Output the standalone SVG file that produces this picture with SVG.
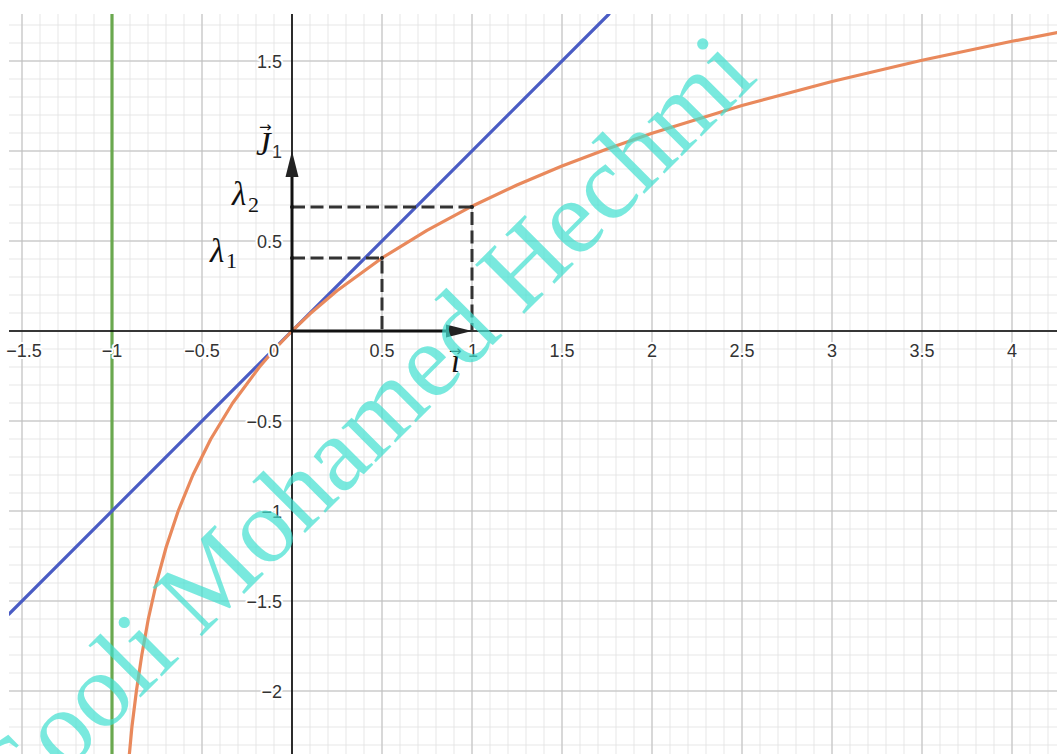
<svg xmlns="http://www.w3.org/2000/svg" width="1057" height="754" viewBox="0 0 1057 754">
<style>
.tick{font-family:"Liberation Sans",Arial,sans-serif;font-size:18px;fill:#333;stroke:#fff;stroke-width:4px;paint-order:stroke;stroke-linejoin:round}
.tx{text-anchor:middle}
.ty{text-anchor:end}
.math{font-family:"Liberation Serif","Times New Roman",serif;font-style:italic;font-size:33px;fill:#111}
.sub{font-family:"Liberation Serif","Times New Roman",serif;font-size:22px;fill:#111}
.arr{font-family:"DejaVu Sans",sans-serif;font-size:15px;fill:#111}
.dash{fill:none;stroke:#333;stroke-width:3;stroke-dasharray:13 5.5}
.curve{fill:none;stroke-width:3.2;stroke-linejoin:round;stroke-linecap:round}
</style>
<defs>
<pattern id="minor" patternUnits="userSpaceOnUse" x="291.5" y="330.5" width="18" height="18">
<rect x="0" y="0" width="1" height="18" fill="#e6e6e6"/>
<rect x="0" y="0" width="18" height="1" fill="#e6e6e6"/>
</pattern>
<pattern id="major" patternUnits="userSpaceOnUse" x="291.5" y="330.5" width="90" height="90">
<rect x="0" y="0" width="1" height="90" fill="#bdbdbd"/>
<rect x="0" y="0" width="90" height="1" fill="#bdbdbd"/>
</pattern>
<clipPath id="plot"><rect x="9" y="14" width="1048" height="740"/></clipPath>
</defs>
<rect width="1057" height="754" fill="#fff"/>
<g id="grid">
<rect x="9" y="14" width="1048" height="740" fill="url(#minor)"/>
<rect x="9" y="14" width="1048" height="740" fill="url(#major)"/>
</g>
<g id="curves" clip-path="url(#plot)">
<line id="green" x1="112" y1="14" x2="112" y2="754" class="curve" stroke="#6aa84f"/>
<line id="blue" x1="9" y1="614" x2="609" y2="14" class="curve" stroke="#4a5cc4"/>
<polyline id="orange" class="curve" stroke="#e9895c" points="129.2,756 131.9,727 136.4,691 141.8,655 148.3,619 156.4,583 166.2,547 178.2,511 192.9,475 210.8,439 232.7,403 259.4,367 274.9,349 292,331 310,313.8 337,290.8 382,258 427,230.3 472,206.2 517,185 562,166.1 607,148.9 652,133.2 742,105.5 832,81.5 922,60.3 1012,41.3 1060,32"/>
</g>
<g id="axes">
<line x1="9" y1="331" x2="1057" y2="331" stroke="#000" stroke-width="1.6"/>
<line x1="292" y1="14" x2="292" y2="754" stroke="#000" stroke-width="1.6"/>
</g>
<g id="ticks">
<text class="tick tx" x="24" y="357">−1.5</text>
<text class="tick tx" x="112" y="357">−1</text>
<text class="tick tx" x="202" y="357">−0.5</text>
<text class="tick tx" x="274" y="357">0</text>
<text class="tick tx" x="382" y="357">0.5</text>
<text class="tick tx" x="473" y="357">1</text>
<text class="tick tx" x="562" y="357">1.5</text>
<text class="tick tx" x="652" y="357">2</text>
<text class="tick tx" x="742" y="357">2.5</text>
<text class="tick tx" x="832" y="357">3</text>
<text class="tick tx" x="922" y="357">3.5</text>
<text class="tick tx" x="1012" y="357">4</text>
<text class="tick ty" x="282" y="67.5">1.5</text>
<text class="tick ty" x="282" y="157.5">1</text>
<text class="tick ty" x="282" y="247.5">0.5</text>
<text class="tick ty" x="282" y="427.5">−0.5</text>
<text class="tick ty" x="282" y="517.5">−1</text>
<text class="tick ty" x="282" y="607.5">−1.5</text>
<text class="tick ty" x="282" y="697.5">−2</text>
</g>
<g id="dashes">
<path class="dash" d="M292 207 H472 V331"/>
<path class="dash" d="M292 258 H382 V331"/>
<g fill="#222">
<circle cx="292" cy="207" r="2"/><circle cx="472" cy="207" r="2"/>
<circle cx="292" cy="258" r="2"/><circle cx="382" cy="258" r="2"/>
</g>
</g>
<g id="vectors">
<line x1="292" y1="331" x2="450" y2="331" stroke="#111" stroke-width="3"/>
<polygon points="472,331 446,324.5 446,337.5" fill="#222"/>
<line x1="292" y1="331" x2="292" y2="175" stroke="#111" stroke-width="3"/>
<polygon points="292,151 285.5,177 298.5,177" fill="#222"/>
</g>
<g id="labels">
<text class="math" x="256" y="155">J</text>
<text class="arr" x="259" y="132">→</text>
<text class="math" x="451" y="372">ı</text>
<text class="arr" x="449" y="356">→</text>
<text class="math" x="232" y="205">λ</text>
<text class="sub" x="248" y="212">2</text>
<text class="math" x="210" y="262">λ</text>
<text class="sub" x="226" y="268">1</text>
</g>
<g id="watermark">
<text x="0" y="0" transform="translate(10,828) rotate(-45)" font-family="'Liberation Serif','Times New Roman',serif" font-size="106" fill="#40e0d0" fill-opacity="0.7">Gooli Mohamed Hechmi</text>
</g>
</svg>
